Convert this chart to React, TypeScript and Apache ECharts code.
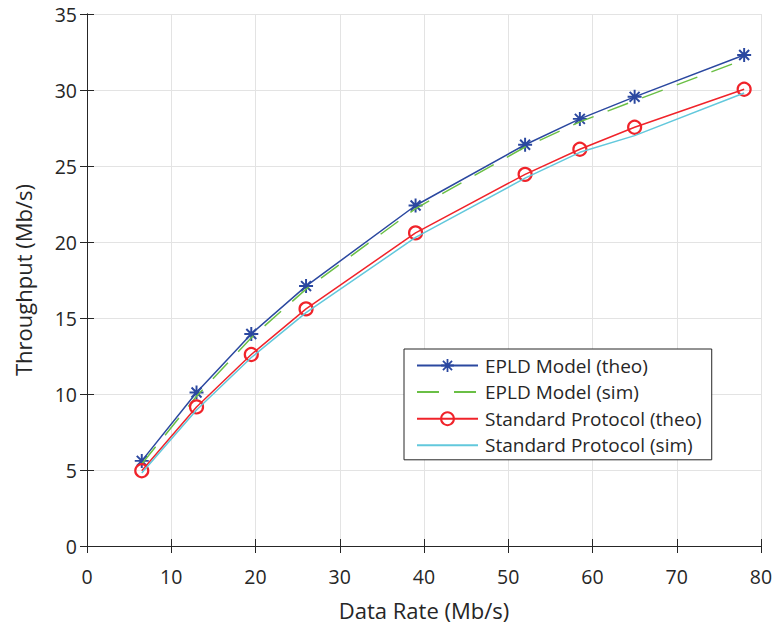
import React, { useEffect, useRef } from "react";
import * as echarts from "echarts";

const dataRates = [6.5, 13, 19.5, 26, 39, 52, 58.5, 65, 78];
const epldTheo = [5.6, 10.1, 13.95, 17.1, 22.4, 26.4, 28.1, 29.55, 32.3];
const epldSim = [5.4, 9.85, 13.7, 16.9, 22.2, 26.25, 27.9, 29.3, 32.0];
const stdTheo = [4.95, 9.15, 12.6, 15.6, 20.6, 24.45, 26.1, 27.55, 30.05];
const stdSim = [4.8, 8.95, 12.4, 15.35, 20.3, 24.2, 25.9, 27.0, 29.8];
const xTicks = { min: 0, max: 80, interval: 10 };
const yTicks = { min: 0, max: 35, interval: 5 };
const legendNames = [
  "EPLD Model (theo)",
  "EPLD Model (sim)",
  "Standard Protocol (theo)",
  "Standard Protocol (sim)",
];

const FONT = "Open Sans";
const AXIS_COLOR = "#262626";
const STAR =
  "path://M-1.4,-10 L1.4,-10 L1.4,10 L-1.4,10 Z M-10,-1.4 L10,-1.4 L10,1.4 L-10,1.4 Z M-8.1,-6.1 L-6.1,-8.1 L8.1,6.1 L6.1,8.1 Z M6.1,-8.1 L8.1,-6.1 L-6.1,8.1 L-8.1,6.1 Z";

function pts(ys: number[]) {
  return dataRates.map((x, i) => [x, ys[i]]);
}

export default function App() {
  const ref = useRef<HTMLDivElement>(null);
  useEffect(() => {
    if (!ref.current) return;
    const chart = echarts.init(ref.current, undefined, { renderer: "svg" });
    const axisLine = { show: true, lineStyle: { color: AXIS_COLOR, width: 1 } };
    const axisTick = { show: true, inside: true, length: 7, lineStyle: { color: AXIS_COLOR, width: 1 } };
    const hidden = { color: "rgba(0,0,0,0)", borderWidth: 0, opacity: 0 };
    chart.setOption({
      animation: false,
      backgroundColor: "#ffffff",
      grid: { left: 87, top: 14, right: 18, bottom: 86, containLabel: false },
      xAxis: [
        {
          type: "value",
          position: "bottom",
          ...xTicks,
          axisLine,
          axisTick,
          axisLabel: { margin: 20, fontSize: 19.5, color: AXIS_COLOR, fontFamily: FONT },
          splitLine: { show: true, lineStyle: { color: "#e3e3e3", width: 1 } },
          name: "Data Rate (Mb/s)",
          nameLocation: "middle",
          nameGap: 53,
          nameTextStyle: { fontSize: 22, color: AXIS_COLOR, fontFamily: FONT },
        },
        {
          type: "value",
          position: "top",
          ...xTicks,
          axisLine,
          axisTick,
          axisLabel: { show: false },
          splitLine: { show: false },
        },
      ],
      yAxis: [
        {
          type: "value",
          position: "left",
          ...yTicks,
          axisLine,
          axisTick,
          axisLabel: { margin: 10, fontSize: 19.5, color: AXIS_COLOR, fontFamily: FONT },
          splitLine: { show: true, lineStyle: { color: "#e3e3e3", width: 1 } },
          name: "Throughput (Mb/s)",
          nameLocation: "middle",
          nameGap: 53,
          nameTextStyle: { fontSize: 22, color: AXIS_COLOR, fontFamily: FONT },
        },
        {
          type: "value",
          position: "right",
          ...yTicks,
          axisLine,
          axisTick,
          axisLabel: { show: false },
          splitLine: { show: false },
        },
      ],
      legend: {
        orient: "vertical",
        left: 404,
        top: 349,
        padding: [7, 10, 5, 12],
        itemWidth: 61,
        itemHeight: 16,
        itemGap: 7.6,
        backgroundColor: "#ffffff",
        borderColor: AXIS_COLOR,
        borderWidth: 1,
        borderRadius: 0,
        textStyle: { fontSize: 19, color: AXIS_COLOR, fontFamily: FONT, padding: [0, 0, 0, 2] },
        data: [
          { name: legendNames[0] },
          { name: legendNames[1], itemStyle: hidden },
          { name: legendNames[2] },
          { name: legendNames[3], itemStyle: hidden },
        ],
      },
      series: [
        {
          name: legendNames[0],
          type: "line",
          xAxisIndex: 0,
          yAxisIndex: 0,
          data: pts(epldTheo),
          symbol: STAR,
          symbolSize: 14,
          symbolKeepAspect: true,
          showSymbol: true,
          lineStyle: { color: "#2b48a0", width: 1.5 },
          itemStyle: { color: "#2b48a0" },
          z: 2,
        },
        {
          name: legendNames[1],
          type: "line",
          xAxisIndex: 0,
          yAxisIndex: 0,
          data: pts(epldSim),
          symbol: "none",
          lineStyle: { color: "#6abf45", width: 1.5, type: [22, 15] },
          itemStyle: { color: "#6abf45" },
          z: 3,
        },
        {
          name: legendNames[2],
          type: "line",
          xAxisIndex: 0,
          yAxisIndex: 0,
          data: pts(stdTheo),
          symbol: "circle",
          symbolSize: 13,
          showSymbol: true,
          lineStyle: { color: "#f0232a", width: 1.5 },
          itemStyle: { color: "rgba(255,255,255,0)", borderColor: "#f0232a", borderWidth: 2.2 },
          z: 4,
        },
        {
          name: legendNames[3],
          type: "line",
          xAxisIndex: 0,
          yAxisIndex: 0,
          data: pts(stdSim),
          symbol: "none",
          lineStyle: { color: "#62c8dc", width: 1.5 },
          itemStyle: { color: "#62c8dc" },
          z: 5,
        },
      ],
    });
    return () => chart.dispose();
  }, []);
  return (
    <div
      ref={ref}
      style={{ position: "absolute", left: 0, top: 0, width: 779, height: 632 }}
    />
  );
}
